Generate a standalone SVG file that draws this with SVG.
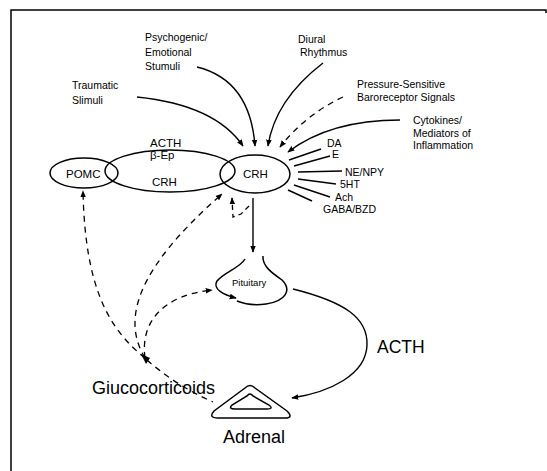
<svg xmlns="http://www.w3.org/2000/svg" width="547" height="471" viewBox="0 0 547 471">
<defs>
<marker id="ah" viewBox="0 0 10 10" refX="9" refY="5" markerWidth="7" markerHeight="7" markerUnits="userSpaceOnUse" orient="auto">
<path d="M0,1 L10,5 L0,9 Z" fill="#000"/>
</marker>
</defs>
<style>
.ln{fill:none;stroke:#000;stroke-width:1.4}
.ds{fill:none;stroke:#000;stroke-width:1.3;stroke-dasharray:6 5}
.nd{fill:none;stroke:#000;stroke-width:1.5}
text{font-family:"Liberation Sans",Arial,sans-serif;fill:#000}
.s{font-size:10.5px}
.m{font-size:11.5px}
.b{font-size:18px}
</style>
<rect width="547" height="471" fill="#fff"/>
<path class="nd" d="M11,471 V10 H546 V13"/>

<g id="POMC">
<ellipse class="nd" cx="84" cy="173" rx="34" ry="15"/>
<text class="m" x="66" y="178">POMC</text>
</g>
<g id="products">
<ellipse class="nd" cx="170" cy="171" rx="65" ry="21"/>
<text class="m" x="150" y="147">ACTH</text>
<text class="m" x="150" y="159">β-Ep</text>
<text class="m" x="152" y="186">CRH</text>
</g>
<g id="CRH">
<ellipse class="nd" cx="255" cy="174" rx="35" ry="19"/>
<text class="m" x="243" y="178">CRH</text>
</g>
<g id="Pituitary">
<path class="nd" d="M245,259 C240,268 224,272 217,281 C212,289 224,295 236,298" marker-end="url(#ah)"/>
<path class="nd" d="M263,256 C262,266 272,273 282,280 C292,290 286,301 266,304 C252,306 242,303 237,301"/>
<text x="232" y="286" style="font-size:9.5px">Pituitary</text>
</g>
<g id="Adrenal">
<path class="nd" d="M245,388 Q250,383 255,388 L287,411 Q294,418 285,418 L218,418 Q208,418 214,411 Z"/>
<path class="nd" d="M247,396 Q250,392 253,396 L269,405 Q274,409 267,409 L235,409 Q228,409 232,405 Z"/>
<text class="b" x="223" y="443">Adrenal</text>
</g>
<g id="Traumatic">
<text class="s" x="72" y="89">Traumatic</text>
<text class="s" x="72" y="104">Slimuli</text>
</g>
<g id="Psychogenic">
<text class="s" x="145" y="41">Psychogenic/</text>
<text class="s" x="145" y="56">Emotional</text>
<text class="s" x="145" y="70">Stumuli</text>
</g>
<g id="Diurnal">
<text class="s" x="298" y="43">Diural</text>
<text class="s" x="300" y="56">Rhythmus</text>
</g>
<g id="Baroreceptor">
<text class="s" x="357" y="88">Pressure-Sensitive</text>
<text class="s" x="357" y="101">Baroreceptor Signals</text>
</g>
<g id="Cytokines">
<text class="s" x="413" y="124">Cytokines/</text>
<text class="s" x="413" y="137">Mediators of</text>
<text class="s" x="413" y="149">Inflammation</text>
</g>
<g id="transmitters">
<text class="s" x="327" y="147">DA</text>
<text class="s" x="332" y="158">E</text>
<text class="s" x="345" y="176">NE/NPY</text>
<text class="s" x="340" y="188">5HT</text>
<text class="s" x="335" y="201">Ach</text>
<text class="s" x="323" y="213">GABA/BZD</text>
</g>
<g id="Glucocorticoids">
<text class="b" x="92" y="394">Giucocorticoids</text>
</g>
<g id="ACTH-label">
<text class="b" x="377" y="353" style="font-size:17.5px">ACTH</text>
</g>

<g id="connectors">
<path class="ln" d="M137,97 Q215,105 243,146" marker-end="url(#ah)"/>
<path class="ln" d="M197,67 Q250,80 255,146" marker-end="url(#ah)"/>
<path class="ln" d="M323,63 Q275,100 268,146" marker-end="url(#ah)"/>
<path class="ds" d="M343,97 Q305,115 280,147" marker-end="url(#ah)"/>
<path class="ln" d="M400,120 Q330,120 288,152" marker-end="url(#ah)"/>
<path class="ln" d="M289,160 L321,149"/>
<path class="ln" d="M294,166 L330,156"/>
<path class="ln" d="M298,172 L342,171"/>
<path class="ln" d="M298,179 L336,184"/>
<path class="ln" d="M294,185 L330,197"/>
<path class="ln" d="M288,190 L312,201"/>
<path class="ln" d="M253,198 V252" marker-end="url(#ah)"/>
<path class="ds" d="M249,206 L241,214 L233,217 L232,198" marker-end="url(#ah)" style="stroke-dasharray:5 4"/>
<path class="ds" d="M145,358 C110,330 85,290 83,191" marker-end="url(#ah)"/>
<path class="ds" d="M145,358 C122,320 135,270 222,194" marker-end="url(#ah)"/>
<path class="ds" d="M145,358 C140,320 165,295 212,290" marker-end="url(#ah)"/>
<path class="ds" d="M147,360 Q175,385 213,402"/>
<path d="M141,354 L150,358 L146,364 Z" fill="#000"/>
<path class="ln" d="M293,289 C345,302 368,318 367,345 C366,375 330,392 292,398" marker-end="url(#ah)"/>
</g>
</svg>
